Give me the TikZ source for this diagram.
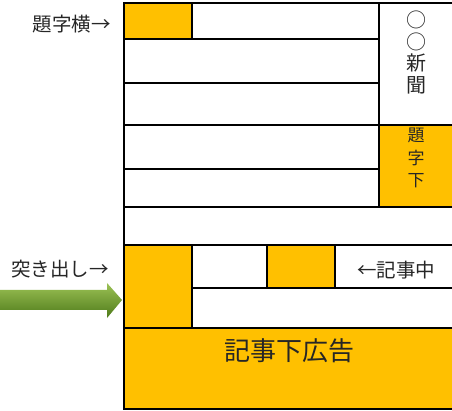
\documentclass[tikz,border=0pt]{standalone}
\usepackage{fontspec}
\newfontfamily\jp{Noto Sans CJK JP}
\definecolor{gold}{HTML}{FFC000}
\definecolor{gtop}{HTML}{9CC255}
\definecolor{gmid}{HTML}{7BAA32}
\definecolor{gbot}{HTML}{4E7A1A}
\tikzset{
  frameline/.style={line width=1.1pt, draw=black},
  goldbox/.style={fill=gold, draw=none},
  lbl/.style={font=\jp\fontsize{19.5}{21}\selectfont, inner sep=0pt, text=black!85},
  vlbl/.style={inner sep=0pt, align=center, text=black!85},
}
\begin{document}
\begin{tikzpicture}[x=1pt,y=-1pt]
\useasboundingbox (0,0) rectangle (452,411);
\fill[white] (0,0) rectangle (452,411);
% gold areas
\fill[goldbox] (124,3) rectangle (192,39);
\fill[goldbox] (379,125) rectangle (452,207);
\fill[goldbox] (124,245) rectangle (192,328);
\fill[goldbox] (267,245) rectangle (335,288);
\fill[goldbox] (124,328) rectangle (452,409);
% lines
\draw[frameline] (452,3) -- (124,3) -- (124,409) -- (452,409);
\draw[frameline] (192,3) -- (192,39);
\draw[frameline] (124,39) -- (379,39);
\draw[frameline] (124,83) -- (379,83);
\draw[frameline] (124,125) -- (452,125);
\draw[frameline] (124,169) -- (379,169);
\draw[frameline] (124,207) -- (452,207);
\draw[frameline] (379,3) -- (379,207);
\draw[frameline] (124,245) -- (452,245);
\draw[frameline] (192,245) -- (192,328);
\draw[frameline] (267,245) -- (267,288);
\draw[frameline] (335,245) -- (335,288);
\draw[frameline] (192,288) -- (452,288);
\draw[frameline] (124,328) -- (452,328);
% arrow
\shade[top color=gtop, middle color=gmid, bottom color=gbot]
  (0,290) -- (107,290) -- (107,283) -- (122,300) -- (107,318) -- (107,310) -- (0,310) -- cycle;
% labels
\node[lbl, anchor=east] (tjy) at (111,24) {題字横→};
\node[lbl, anchor=east] (tsd) at (109,269) {突き出し→};
\node[lbl, anchor=west] (kjc) at (357,270) {←記事中};
\node[lbl, font=\jp\fontsize{26}{28}\selectfont] (kjk) at (289,351) {記事下広告};
\node[vlbl, font=\jp\fontsize{20}{21.5}\selectfont, anchor=north] (shb) at (416,11) {○\\○\\新\\聞};
\node[vlbl, font=\jp\fontsize{17}{22.5}\selectfont, anchor=north] (tjs) at (416,128) {題\\字\\下};
\end{tikzpicture}
\end{document}
